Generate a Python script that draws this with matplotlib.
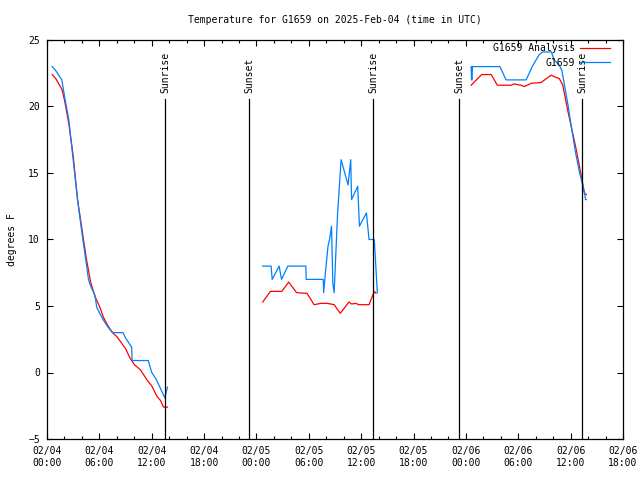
import pandas as pd
import matplotlib
matplotlib.use('Agg')
import matplotlib.pyplot as plt
import matplotlib.dates as mdates

plt.rcParams['font.family'] = 'DejaVu Sans Mono'
plt.rcParams['font.size'] = 7

start = pd.Timestamp('2025-02-04 00:00')

# hours after 02/04 00:00 UTC, three separate observing periods
obs_t1 = [0.6, 1.0, 1.7, 2.0, 2.5, 3.0, 3.5, 4.0, 4.5, 4.75, 5.0, 5.5, 5.7, 6.0, 6.5,
          7.0, 7.5, 8.0, 8.7, 9.0, 9.7, 9.75, 10.5, 11.6, 12.0, 12.5, 13.0, 13.5, 13.8]
obs_v1 = [23.0, 22.7, 22.0, 20.8, 19.0, 16.0, 13.0, 10.5, 8.2, 7.0, 6.5, 5.8, 4.9, 4.5, 3.9,
          3.4, 3.0, 3.0, 3.0, 2.6, 1.9, 0.9, 0.9, 0.9, 0.0, -0.5, -1.2, -1.9, -1.1]
ana_t1 = [0.6, 1.0, 1.7, 2.0, 2.5, 3.0, 3.5, 4.0, 4.5, 5.0, 5.5, 6.0, 6.5, 7.0, 7.5,
          8.0, 9.0, 9.5, 10.0, 10.7, 11.5, 12.0, 12.6, 13.0, 13.35, 13.8]
ana_v1 = [22.4, 22.1, 21.3, 20.5, 18.7, 16.3, 13.0, 10.8, 8.6, 6.8, 5.7, 5.0, 4.1, 3.5, 3.0,
          2.7, 1.8, 1.1, 0.6, 0.2, -0.6, -1.0, -1.8, -2.1, -2.6, -2.6]

obs_t2 = [24.72, 25.68, 25.8, 26.6, 26.87, 27.6, 29.66, 29.7, 31.65, 31.7, 31.9, 32.2, 32.4,
          32.6, 32.75, 32.9, 33.3, 33.6, 33.7, 34.5, 34.8, 34.9, 35.6, 35.8, 36.6, 36.9,
          37.5, 37.85]
obs_v2 = [8.0, 8.0, 7.0, 8.0, 7.0, 8.0, 8.0, 7.0, 7.0, 6.0, 7.5, 9.5, 10.1,
          11.0, 6.7, 6.0, 12.0, 15.0, 16.0, 14.1, 16.0, 13.0, 14.0, 11.0, 12.0, 10.0,
          10.0, 6.0]
ana_t2 = [24.72, 25.6, 26.9, 27.7, 28.6, 29.8, 30.6, 31.4, 32.1, 32.9, 33.6, 34.6, 34.9,
          35.4, 35.7, 36.9, 37.5, 37.7]
ana_v2 = [5.3, 6.1, 6.1, 6.8, 6.0, 5.95, 5.1, 5.2, 5.2, 5.1, 4.45, 5.3, 5.15,
          5.2, 5.1, 5.1, 6.1, 5.95]

obs_t3 = [48.6, 48.65, 48.7, 48.75, 51.9, 52.6, 54.9, 55.6, 56.4, 56.8, 57.8, 58.1, 58.7,
          59.0, 59.7, 60.05, 60.6, 61.0, 61.6, 61.7, 61.8]
obs_v3 = [23.0, 22.0, 22.0, 23.0, 23.0, 22.0, 22.0, 23.0, 23.9, 24.1, 24.1, 23.5, 23.1,
          22.7, 20.1, 18.6, 16.4, 15.1, 13.5, 13.0, 13.0]
ana_t3 = [48.6, 49.8, 50.9, 51.6, 53.2, 53.5, 54.3, 54.7, 55.5, 56.6, 57.75, 58.3, 58.7,
          59.1, 59.7, 60.2, 60.6, 61.2, 61.6, 61.8]
ana_v3 = [21.6, 22.4, 22.4, 21.6, 21.6, 21.7, 21.6, 21.5, 21.75, 21.8, 22.35, 22.2, 22.1,
          21.6, 19.6, 18.1, 16.9, 14.85, 13.4, 13.4]

event_names = ['Sunrise', 'Sunset', 'Sunrise', 'Sunset', 'Sunrise']
event_hours = [13.52, 23.14, 37.34, 47.2, 61.3]


def to_time(hours):
    return start + pd.to_timedelta(hours, unit='h')


fig = plt.figure(figsize=(6.4, 4.8), dpi=100)
ax = fig.add_axes([47 / 640, 41 / 480, 576 / 640, 399 / 480])

red = '#ff0000'
blue = '#0080ff'
for i, (t, v) in enumerate([(ana_t1, ana_v1), (ana_t2, ana_v2), (ana_t3, ana_v3)]):
    ax.plot(to_time(t), v, color=red, lw=0.9, label='G1659 Analysis' if i == 0 else None)
for i, (t, v) in enumerate([(obs_t1, obs_v1), (obs_t2, obs_v2), (obs_t3, obs_v3)]):
    ax.plot(to_time(t), v, color=blue, lw=0.9, label='G1659' if i == 0 else None)

# sunrise / sunset markers
for name, h in zip(event_names, event_hours):
    ax.axvline(to_time(h), ymin=0, ymax=0.852, color='black', lw=0.9)
    ax.text(to_time(h), 0.868, name, transform=ax.get_xaxis_transform(),
            rotation=90, ha='center', va='bottom')

ax.set_xlim(start, start + pd.Timedelta(hours=66))
ax.set_ylim(-5, 25)
ax.set_yticks(range(-5, 26, 5))
ax.xaxis.set_major_locator(mdates.HourLocator(byhour=[0, 6, 12, 18]))
ax.xaxis.set_minor_locator(mdates.HourLocator(interval=2))
ax.xaxis.set_major_formatter(mdates.DateFormatter('%m/%d\n%H:%M'))
ax.tick_params(which='both', direction='in', top=True, right=True, width=0.8)
ax.tick_params(which='major', length=4, pad=5)
ax.tick_params(which='minor', length=2)
for s in ax.spines.values():
    s.set_linewidth(0.9)

ax.set_ylabel('degrees F', labelpad=8)
ax.set_title('Temperature for G1659 on 2025-Feb-04 (time in UTC)', fontsize=7, pad=12)
ax.legend(loc='upper right', bbox_to_anchor=(0.977, 0.992), frameon=False,
          markerfirst=False, handlelength=3.1, handletextpad=0.5,
          borderaxespad=0, borderpad=0, labelspacing=0.45)

fig.savefig('out.png', dpi=100)
